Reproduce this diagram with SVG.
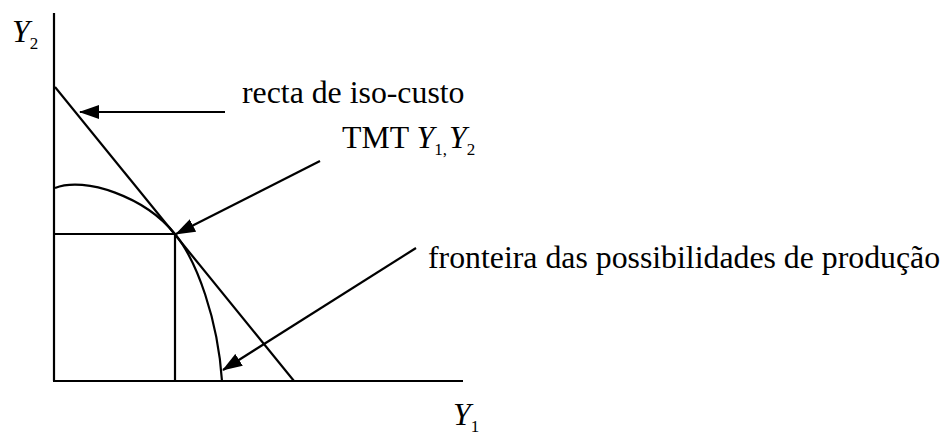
<svg xmlns="http://www.w3.org/2000/svg" width="946" height="437" viewBox="0 0 946 437">
<style>
.ln{stroke:#000;stroke-width:2.2;fill:none}
.t{font-family:"Liberation Serif","Times New Roman",serif;font-size:31.8px;fill:#000}
.i{font-style:italic}
.s{font-size:17px}
</style>
<defs>
<marker id="ah" viewBox="0 0 20 14" refX="19" refY="7" markerWidth="20" markerHeight="14" markerUnits="userSpaceOnUse" orient="auto">
<path d="M0,0 L20,7 L0,14 Z" fill="#000"/>
</marker>
</defs>
<rect width="946" height="437" fill="#fff"/>
<g id="axes">
<line class="ln" x1="54" y1="13" x2="54" y2="381"/>
<line class="ln" x1="53" y1="381" x2="463" y2="381"/>
</g>
<g id="isocost">
<line class="ln" x1="55" y1="87" x2="294" y2="381"/>
</g>
<g id="frontier">
<path class="ln" d="M55,188 C85,176 145,197 175,234 C197,261 218,320 222,381"/>
</g>
<g id="guides">
<line class="ln" x1="54" y1="234" x2="175" y2="234"/>
<line class="ln" x1="175" y1="234" x2="175" y2="381"/>
</g>
<g id="connectors">
<line class="ln" x1="225" y1="112" x2="80" y2="112" marker-end="url(#ah)"/>
<line class="ln" x1="320" y1="161" x2="176" y2="234" marker-end="url(#ah)"/>
<line class="ln" x1="416" y1="248" x2="223" y2="370" marker-end="url(#ah)"/>
</g>
<g id="labels">
<text class="t" x="242" y="103">recta de iso-custo</text>
<text class="t" x="342" y="148">TMT <tspan class="i">Y</tspan><tspan class="s" dy="7">1,</tspan><tspan class="i" dy="-7" dx="2">Y</tspan><tspan class="s" dy="7">2</tspan></text>
<text class="t" x="428" y="268">fronteira das possibilidades de produção</text>
<text class="t" x="12" y="42"><tspan class="i">Y</tspan><tspan class="s" dy="7">2</tspan></text>
<text class="t" x="453" y="425"><tspan class="i">Y</tspan><tspan class="s" dy="7">1</tspan></text>
</g>
</svg>
